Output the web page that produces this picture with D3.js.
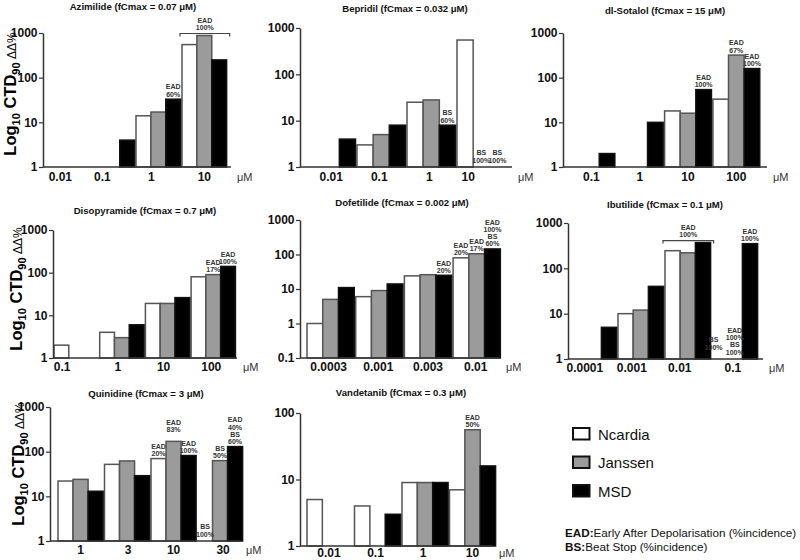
<!DOCTYPE html>
<html><head><meta charset="utf-8">
<script src="https://cdn.jsdelivr.net/npm/d3@7"></script>
<style>
body{margin:0;background:#fff}
svg{display:block;font-family:"Liberation Sans",Arial,Helvetica,sans-serif}
</style>
</head><body>
<svg id="chart" width="800" height="560"></svg>
<script>
// ---------------- DATA ----------------
const seriesNames = ["Ncardia", "Janssen", "MSD"];

const yTicksStd = [1, 10, 100, 1000];
const yTicksDofetilide = [0.1, 1, 10, 100, 1000];
const yTicksVandetanib = [1, 10, 100];

const azimilideTitle = "Azimilide (fCmax = 0.07 μM)";
const azimilideConc = ["0.01", "0.1", "1", "10"];
const azimilideNcardia = [null, null, 14, 550];
const azimilideJanssen = [null, null, 17, 880];
const azimilideMSD = [null, 4, 33, 250];
const azimilideNotes = [{conc: "1", series: "MSD", text: ["EAD", "60%"]}];
const azimilideBrackets = [{conc: "10", text: ["EAD", "100%"]}];

const bepridilTitle = "Bepridil (fCmax = 0.032 μM)";
const bepridilConc = ["0.01", "0.1", "1", "10"];
const bepridilNcardia = [null, 3, 25, 550];
const bepridilJanssen = [null, 5, 28, null];
const bepridilMSD = [4, 8, 8, null];
const bepridilNotes = [
  {conc: "1", series: "MSD", text: ["BS", "60%"]},
  {conc: "10", series: "Janssen", text: ["BS", "100%"]},
  {conc: "10", series: "MSD", text: ["BS", "100%"]}
];

const sotalolTitle = "dl-Sotalol (fCmax = 15 μM)";
const sotalolConc = ["0.1", "1", "10", "100"];
const sotalolNcardia = [null, null, 18, 33];
const sotalolJanssen = [null, null, 16, 320];
const sotalolMSD = [2, 10, 54, 160];
const sotalolNotes = [
  {conc: "10", series: "MSD", text: ["EAD", "100%"]},
  {conc: "100", series: "Janssen", text: ["EAD", "67%"]},
  {conc: "100", series: "MSD", text: ["EAD", "100%"]}
];

const disopyramideTitle = "Disopyramide (fCmax = 0.7 μM)";
const disopyramideConc = ["0.1", "1", "10", "100"];
const disopyramideNcardia = [2, 4, 19, 80];
const disopyramideJanssen = [null, 3, 19, 90];
const disopyramideMSD = [null, 6, 26, 140];
const disopyramideNotes = [
  {conc: "100", series: "Janssen", text: ["EAD", "17%"]},
  {conc: "100", series: "MSD", text: ["EAD", "100%"]}
];

const dofetilideTitle = "Dofetilide (fCmax = 0.002 μM)";
const dofetilideConc = ["0.0003", "0.001", "0.003", "0.01"];
const dofetilideNcardia = [1, 6, 24, 80];
const dofetilideJanssen = [5, 9, 26, 105];
const dofetilideMSD = [11, 14, 25, 145];
const dofetilideNotes = [
  {conc: "0.003", series: "MSD", text: ["EAD", "20%"]},
  {conc: "0.01", series: "Ncardia", text: ["EAD", "20%"]},
  {conc: "0.01", series: "Janssen", text: ["EAD", "17%"]},
  {conc: "0.01", series: "MSD", text: ["EAD", "100%", "BS", "60%"]}
];

const ibutilideTitle = "Ibutilide (fCmax = 0.1 μM)";
const ibutilideConc = ["0.0001", "0.001", "0.01", "0.1"];
const ibutilideNcardia = [null, 10, 245, null];
const ibutilideJanssen = [null, 12, 220, null];
const ibutilideMSD = [5, 40, 370, 350];
const ibutilideNotes = [
  {conc: "0.1", series: "Ncardia", text: ["BS", "100%"]},
  {conc: "0.1", series: "Janssen", text: ["EAD", "100%", "BS", "100%"]},
  {conc: "0.1", series: "MSD", text: ["EAD", "100%"]}
];
const ibutilideBrackets = [{conc: "0.01", text: ["EAD", "100%"]}];

const quinidineTitle = "Quinidine (fCmax = 3 μM)";
const quinidineConc = ["1", "3", "10", "30"];
const quinidineNcardia = [22, 52, 70, null];
const quinidineJanssen = [24, 62, 170, 63];
const quinidineMSD = [13, 29, 82, 130];
const quinidineNotes = [
  {conc: "10", series: "Ncardia", text: ["EAD", "20%"]},
  {conc: "10", series: "Janssen", text: ["EAD", "83%"]},
  {conc: "10", series: "MSD", text: ["EAD", "100%"]},
  {conc: "30", series: "Ncardia", text: ["BS", "100%"]},
  {conc: "30", series: "Janssen", text: ["BS", "50%"]},
  {conc: "30", series: "MSD", text: ["EAD", "40%", "BS", "60%"]}
];

const vandetanibTitle = "Vandetanib (fCmax = 0.3 μM)";
const vandetanibConc = ["0.01", "0.1", "1", "10"];
const vandetanibNcardia = [5, 4, 9, 7];
const vandetanibJanssen = [null, null, 9, 56];
const vandetanibMSD = [null, 3, 9, 16];
const vandetanibNotes = [{conc: "10", series: "Janssen", text: ["EAD", "50%"]}];

const unitLabel = "μM";
const yAxisTitle = ["Log", "10", " CTD", "90", " ΔΔ%"];
const footnotes = [["EAD:", "Early After Depolarisation (%incidence)"], ["BS:", "Beat Stop (%incidence)"]];

// ---------------- PANELS ----------------
const panels = [
  {key: "azimilide", title: azimilideTitle, conc: azimilideConc, values: [azimilideNcardia, azimilideJanssen, azimilideMSD], yDomain: [1, 1000], yTicks: yTicksStd, notes: azimilideNotes, brackets: azimilideBrackets},
  {key: "bepridil", title: bepridilTitle, conc: bepridilConc, values: [bepridilNcardia, bepridilJanssen, bepridilMSD], yDomain: [1, 1000], yTicks: yTicksStd, notes: bepridilNotes, brackets: []},
  {key: "sotalol", title: sotalolTitle, conc: sotalolConc, values: [sotalolNcardia, sotalolJanssen, sotalolMSD], yDomain: [1, 1000], yTicks: yTicksStd, notes: sotalolNotes, brackets: []},
  {key: "disopyramide", title: disopyramideTitle, conc: disopyramideConc, values: [disopyramideNcardia, disopyramideJanssen, disopyramideMSD], yDomain: [1, 1000], yTicks: yTicksStd, notes: disopyramideNotes, brackets: []},
  {key: "dofetilide", title: dofetilideTitle, conc: dofetilideConc, values: [dofetilideNcardia, dofetilideJanssen, dofetilideMSD], yDomain: [0.1, 1000], yTicks: yTicksDofetilide, notes: dofetilideNotes, brackets: []},
  {key: "ibutilide", title: ibutilideTitle, conc: ibutilideConc, values: [ibutilideNcardia, ibutilideJanssen, ibutilideMSD], yDomain: [1, 1000], yTicks: yTicksStd, notes: ibutilideNotes, brackets: ibutilideBrackets},
  {key: "quinidine", title: quinidineTitle, conc: quinidineConc, values: [quinidineNcardia, quinidineJanssen, quinidineMSD], yDomain: [1, 1000], yTicks: yTicksStd, notes: quinidineNotes, brackets: []},
  {key: "vandetanib", title: vandetanibTitle, conc: vandetanibConc, values: [vandetanibNcardia, vandetanibJanssen, vandetanibMSD], yDomain: [1, 100], yTicks: yTicksVandetanib, notes: vandetanibNotes, brackets: []}
];

// ---------------- LAYOUT ----------------
const layout = {
  azimilide:    {axisX: 43,  gx0: 44,  groupW: 46,   axisEnd: 231, yTop: 33,  yBot: 167, titleX: 133, titleY: 10,    xLab: 14,   xShift: [-6, -10, -7, 0], yLabel: [16, 94]},
  bepridil:     {axisX: 300, gx0: 307, groupW: 50,   axisEnd: 512, yTop: 28,  yBot: 167, titleX: 405, titleY: 12,    xLab: 14,   xShift: [0, -2, -2, -13]},
  sotalol:      {axisX: 563, gx0: 568, groupW: 48.3, axisEnd: 767, yTop: 33,  yBot: 167, titleX: 665, titleY: 13.5,  xLab: 14,   xShift: [0, 0, 0, 0]},
  disopyramide: {axisX: 53,  gx0: 54,  groupW: 45.7, axisEnd: 237, yTop: 230, yBot: 358, titleX: 145, titleY: 213.5, xLab: 13,   xShift: [-14, -4, -4, -2], yLabel: [22, 289]},
  dofetilide:   {axisX: 300, gx0: 307, groupW: 48.7, axisEnd: 500, yTop: 220, yBot: 358, titleX: 402, titleY: 205.5, xLab: 13,   xShift: [-2, -1, 0, -1]},
  ibutilide:    {axisX: 568, gx0: 571, groupW: 47,   axisEnd: 763, yTop: 223, yBot: 359, titleX: 665, titleY: 208,   xLab: 13,   xShift: [-9, -9, -8, -2]},
  quinidine:    {axisX: 50,  gx0: 58,  groupW: 46.5, axisEnd: 240, yTop: 407, yBot: 541, titleX: 146, titleY: 397,   xLab: 12.5, xShift: [0, 1, 0, 3], yLabel: [24, 464]},
  vandetanib:   {axisX: 300, gx0: 307, groupW: 47.5, axisEnd: 493, yTop: 413, yBot: 546, titleX: 401, titleY: 395.5, xLab: 11,   xShift: [-1, -2, -2, 0]}
};
const noteAdjust = {
  "quinidine|10|Janssen": {dx: 0, dy: -7},
  "ibutilide|0.1|Ncardia": {dx: -6, dy: -5}
};
const fills = {Ncardia: "#ffffff", Janssen: "#9b9b9b", MSD: "#000000"};
const strokes = {Ncardia: "#555555", Janssen: "#555555", MSD: "#111111"};
const bandPad = 0.03;
const noteLine = 7.2;

// ---------------- DRAW ----------------
const svg = d3.select("#chart");

panels.forEach(p => {
  const L = layout[p.key];
  const n = p.conc.length;
  const g = svg.append("g").attr("class", "panel-" + p.key);

  const y = d3.scaleLog().domain(p.yDomain).range([L.yBot, L.yTop]);
  const x = d3.scaleBand().domain(p.conc)
    .range([L.gx0, L.gx0 + L.groupW * (n - bandPad)])
    .paddingInner(bandPad).paddingOuter(0);
  const xs = d3.scaleBand().domain(seriesNames).range([0, x.bandwidth()]);

  // title
  g.append("text").attr("x", L.titleX).attr("y", L.titleY)
    .attr("text-anchor", "middle").attr("font-size", 9.6).attr("font-weight", "bold")
    .attr("fill", "#111").text(p.title);

  // bars
  const barData = [];
  seriesNames.forEach((s, si) => {
    p.values[si].forEach((v, ci) => {
      if (v != null) barData.push({s, conc: p.conc[ci], v});
    });
  });
  g.append("g").selectAll("rect").data(barData).join("rect")
    .attr("x", d => x(d.conc) + xs(d.s))
    .attr("width", xs.bandwidth())
    .attr("y", d => y(d.v))
    .attr("height", d => L.yBot - y(d.v))
    .attr("fill", d => fills[d.s])
    .attr("stroke", d => strokes[d.s])
    .attr("stroke-width", 1.5);

  // y axis
  const ya = g.append("g").attr("transform", `translate(${L.axisX},0)`)
    .call(d3.axisLeft(y).tickValues(p.yTicks).tickFormat(d => String(d))
      .tickSize(4).tickSizeOuter(0).tickPadding(1.5));
  ya.select(".domain").attr("stroke", "#333").attr("stroke-width", 1.5);
  ya.selectAll(".tick line").attr("stroke", "#333").attr("stroke-width", 1.2);
  ya.selectAll(".tick text").attr("font-size", 12).attr("font-weight", "bold")
    .attr("font-family", '"Liberation Sans",Arial,sans-serif').attr("fill", "#111");

  // x axis
  const xa = g.append("g").attr("transform", `translate(0,${L.yBot})`)
    .call(d3.axisBottom(x).tickSize(0).tickPadding(0));
  xa.select(".domain").remove();
  xa.selectAll(".tick text")
    .attr("x", (d, i) => L.xShift[i])
    .attr("y", L.xLab).attr("dy", null)
    .attr("font-size", 12).attr("font-weight", "bold")
    .attr("font-family", '"Liberation Sans",Arial,sans-serif').attr("fill", "#111");
  g.append("line").attr("x1", L.axisX).attr("x2", L.axisEnd)
    .attr("y1", L.yBot).attr("y2", L.yBot)
    .attr("stroke", "#333").attr("stroke-width", 1.5);
  g.append("text").attr("x", L.axisEnd + 6).attr("y", L.yBot + L.xLab)
    .attr("font-size", 11).attr("fill", "#333").text(unitLabel);

  // notes above bars
  p.notes.forEach(nt => {
    const si = seriesNames.indexOf(nt.series);
    const ci = p.conc.indexOf(nt.conc);
    const v = p.values[si][ci];
    const adj = noteAdjust[p.key + "|" + nt.conc + "|" + nt.series] || {dx: 0, dy: 0};
    const cx = x(nt.conc) + xs(nt.series) + xs.bandwidth() / 2 + adj.dx;
    const base = (v != null ? y(v) - 2.5 : L.yBot - 4.5) + adj.dy;
    const k = nt.text.length;
    nt.text.forEach((t, i) => {
      g.append("text").attr("x", cx).attr("y", base - (k - 1 - i) * noteLine)
        .attr("text-anchor", "middle").attr("font-size", 7).attr("font-weight", "bold")
        .attr("fill", "#333").text(t);
    });
  });

  // brackets
  p.brackets.forEach(b => {
    const ci = p.conc.indexOf(b.conc);
    const vmax = d3.max(p.values.map(arr => arr[ci]).filter(v => v != null));
    const by = y(vmax) - 2;
    const x0 = x(b.conc) - 2, x1 = x(b.conc) + x.bandwidth() + 3;
    g.append("path").attr("d", `M${x0},${by + 3}V${by}H${x1}V${by + 3}`)
      .attr("fill", "none").attr("stroke", "#444").attr("stroke-width", 1.2);
    const k = b.text.length;
    b.text.forEach((t, i) => {
      g.append("text").attr("x", (x0 + x1) / 2).attr("y", by - 3.5 - (k - 1 - i) * noteLine)
        .attr("text-anchor", "middle").attr("font-size", 7).attr("font-weight", "bold")
        .attr("fill", "#333").text(t);
    });
  });

  // y axis title
  if (L.yLabel) {
    const t = g.append("text")
      .attr("transform", `translate(${L.yLabel[0]},${L.yLabel[1]}) rotate(-90)`)
      .attr("text-anchor", "middle").attr("font-size", 16.5).attr("font-weight", "bold").attr("fill", "#000");
    t.append("tspan").text(yAxisTitle[0]);
    t.append("tspan").attr("font-size", 11).attr("dy", 4).text(yAxisTitle[1]);
    t.append("tspan").attr("dy", -4).text(yAxisTitle[2]);
    t.append("tspan").attr("font-size", 11).attr("dy", 4).text(yAxisTitle[3]);
    t.append("tspan").attr("dy", -4).attr("font-size", 12).attr("font-weight", "normal").text(yAxisTitle[4]);
  }
});

// legend
const legendLayout = {x: 573, y0: 428, step: 28.5, w: 16.5, h: 11.5, textX: 598};
const lg = svg.append("g");
seriesNames.forEach((s, i) => {
  const yy = legendLayout.y0 + i * legendLayout.step;
  lg.append("rect").attr("x", legendLayout.x).attr("y", yy)
    .attr("width", legendLayout.w).attr("height", legendLayout.h)
    .attr("fill", fills[s]).attr("stroke", "#111").attr("stroke-width", 2);
  lg.append("text").attr("x", legendLayout.textX).attr("y", yy + legendLayout.h)
    .attr("font-size", 15).attr("fill", "#111").text(s);
});

// footnotes
footnotes.forEach((f, i) => {
  const t = svg.append("text").attr("x", 565).attr("y", 537 + i * 13.5)
    .attr("font-size", 11.7).attr("fill", "#111");
  t.append("tspan").attr("font-weight", "bold").text(f[0]);
  t.append("tspan").text(f[1]);
});
</script>
</body></html>
